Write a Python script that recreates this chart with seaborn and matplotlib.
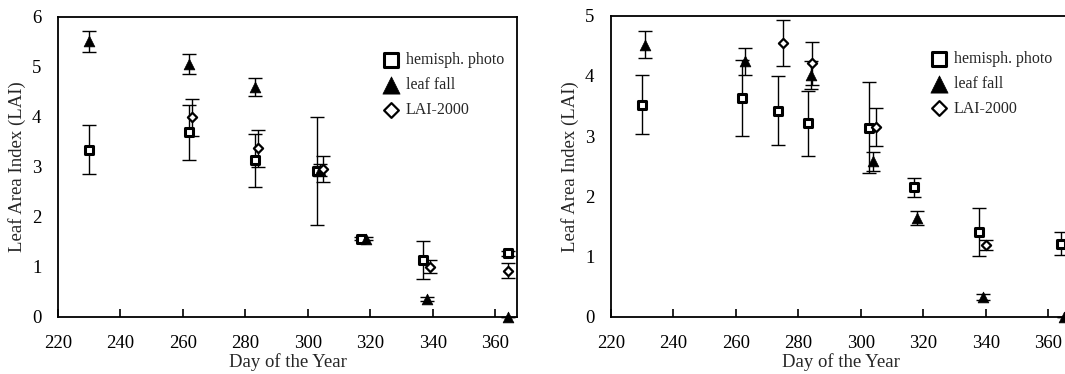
import matplotlib
matplotlib.use("Agg")
import matplotlib.pyplot as plt
import seaborn as sns

# left panel
photo_day_a = [230, 262, 283, 303, 317, 337, 364]
photo_lai_a = [3.34, 3.69, 3.13, 2.92, 1.56, 1.13, 1.27]
photo_err_a = [0.49, 0.55, 0.53, 1.08, 0.03, 0.38, 0.05]

fall_day_a = [230, 262, 283, 304, 318.5, 338, 364]
fall_lai_a = [5.51, 5.06, 4.59, 2.93, 1.56, 0.35, 0.0]
fall_err_a = [0.21, 0.20, 0.18, 0.12, 0.03, 0.04, 0.0]

lai2000_day_a = [263, 284, 305, 339, 364]
lai2000_lai_a = [3.99, 3.37, 2.95, 1.00, 0.92]
lai2000_err_a = [0.37, 0.37, 0.26, 0.13, 0.15]

# right panel
photo_day_b = [230, 262, 273.5, 283, 302.5, 317, 338, 364]
photo_lai_b = [3.52, 3.63, 3.42, 3.21, 3.14, 2.15, 1.41, 1.21]
photo_err_b = [0.49, 0.63, 0.57, 0.54, 0.75, 0.16, 0.40, 0.19]

fall_day_b = [231, 263, 284, 304, 318, 339, 365]
fall_lai_b = [4.52, 4.24, 4.01, 2.58, 1.64, 0.32, 0.0]
fall_err_b = [0.23, 0.23, 0.23, 0.16, 0.12, 0.05, 0.0]

lai2000_day_b = [275, 284.5, 305, 340]
lai2000_lai_b = [4.55, 4.21, 3.15, 1.19]
lai2000_err_b = [0.38, 0.36, 0.31, 0.08]

labels = ["hemisph. photo", "leaf fall", "LAI-2000"]
x_ticks = [220, 240, 260, 280, 300, 320, 340, 360]

sns.set_style("ticks")
plt.rcParams['font.family'] = ['Liberation Serif', 'DejaVu Serif']
plt.rcParams['font.size'] = 13.5

fig = plt.figure(figsize=(10.65, 3.74), dpi=100)
ax_a = fig.add_axes([0.0545, 0.1532, 0.431, 0.802])
ax_b = fig.add_axes([0.5737, 0.1532, 0.431, 0.805])


def draw_series(ax, days, lai, err, marker, size, face, lw, label):
    ax.errorbar(days, lai, yerr=err, fmt='none', ecolor='black',
                elinewidth=1, capsize=5, capthick=1, zorder=2, clip_on=False)
    sns.scatterplot(x=days, y=lai, marker=marker, s=size, facecolor=face,
                    edgecolor='black', linewidth=lw, ax=ax, zorder=3,
                    clip_on=False, label=label)


def draw_panel(ax, photo, fall, lai2000, ymax, leg_anchor):
    draw_series(ax, *photo, 's', 40, 'white', 2.2, labels[0])
    draw_series(ax, *fall, '^', 60, 'black', 0.5, labels[1])
    draw_series(ax, *lai2000, 'D', 22, 'white', 1.6, labels[2])

    ax.set_xlim(220, 367)
    ax.set_ylim(0, ymax)
    ax.set_xticks(x_ticks)
    ax.set_yticks(range(ymax + 1))
    ax.tick_params(axis='x', direction='in', length=6, width=1.2, pad=13,
                   colors='black', labelsize=13.5)
    ax.tick_params(axis='y', length=0, pad=12, colors='black', labelsize=13.5)
    for sp in ax.spines.values():
        sp.set_visible(True)
        sp.set_linewidth(1.3)
        sp.set_color('black')
    ax.set_xlabel("Day of the Year", fontsize=13.5, labelpad=1)
    ax.set_ylabel("Leaf Area Index (LAI)", fontsize=13.5, labelpad=4)
    ax.legend(loc='upper left', bbox_to_anchor=leg_anchor, frameon=False,
              fontsize=11.5, markerscale=1.6, handletextpad=0.3,
              labelspacing=0.55, handlelength=1.2)


draw_panel(ax_a, (photo_day_a, photo_lai_a, photo_err_a),
           (fall_day_a, fall_lai_a, fall_err_a),
           (lai2000_day_a, lai2000_lai_a, lai2000_err_a), 6, (0.674, 0.93))
draw_panel(ax_b, (photo_day_b, photo_lai_b, photo_err_b),
           (fall_day_b, fall_lai_b, fall_err_b),
           (lai2000_day_b, lai2000_lai_b, lai2000_err_b), 5, (0.663, 0.93))

fig.savefig("out.png", dpi=100)
